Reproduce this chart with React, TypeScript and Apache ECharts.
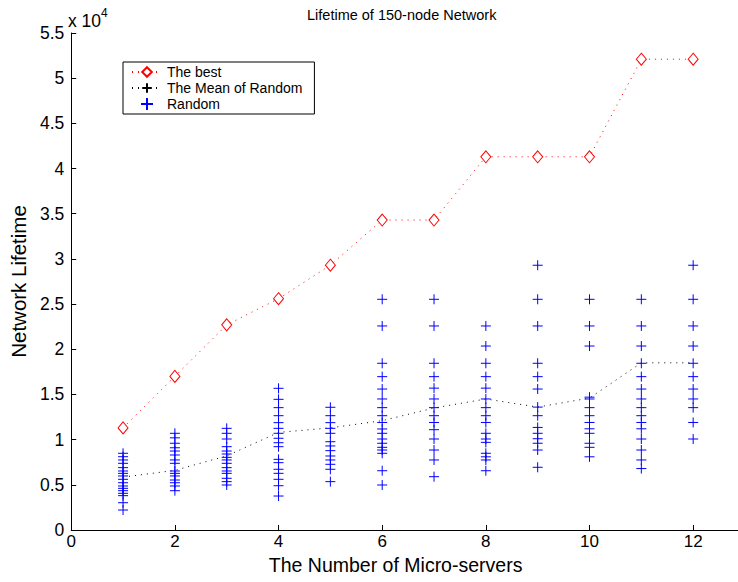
import React, { useEffect, useRef } from "react";
import * as echarts from "echarts";

const servers = [1, 2, 3, 4, 5, 6, 7, 8, 9, 10, 11, 12];
const bestLifetime = [11300, 17000, 22700, 25600, 29300, 34300, 34300, 41300, 41300, 41300, 52100, 52100];
const meanLifetime = [5850, 6600, 8200, 10800, 11300, 12100, 13500, 14500, 13600, 14600, 18500, 18500];

const random1 = [8490, 8110, 7750, 7380, 6900, 6530, 6270, 5980, 5610, 5230, 4870, 4610, 4350, 4060, 3800, 3020, 2210];
const random2 = [10700, 10200, 9600, 9100, 8740, 8300, 7750, 7380, 6530, 6270, 5980, 5530, 5230, 4870, 4350];
const random3 = [11250, 10700, 10070, 9220, 8740, 8410, 8040, 7750, 7380, 6900, 6530, 6270, 5720, 5350, 4980];
const random4 = [15680, 14460, 13540, 12650, 11880, 11250, 10700, 10150, 9660, 9220, 7820, 7450, 6720, 6270, 5610, 4900, 3760];
const random5 = [13580, 12650, 11880, 11250, 10700, 9770, 9300, 8780, 8190, 7750, 7270, 6720, 5350];
const random6 = [25530, 22580, 18450, 16970, 15600, 14500, 13540, 12650, 11900, 11180, 10700, 10070, 9600, 9150, 8850, 8490, 6560, 4980];
const random7 = [25530, 22580, 18450, 16970, 15700, 14500, 13540, 12650, 11900, 11100, 10070, 8850, 7750, 5900];
const random8 = [22580, 20360, 18450, 16970, 15700, 14500, 13540, 12650, 11900, 10700, 10070, 9700, 8490, 8100, 7750, 6560];
const random9 = [29300, 25530, 22580, 18450, 16970, 15600, 13600, 12650, 11350, 10700, 10100, 9600, 8850, 6940];
const random10 = [25530, 22580, 20360, 14700, 14500, 13540, 12650, 11900, 11200, 10700, 9600, 9150, 8100];
const random11 = [25530, 22580, 20360, 18450, 16970, 15600, 14500, 13540, 12650, 11900, 11200, 10070, 8850, 7750, 6800];
const random12 = [29300, 25530, 22580, 20360, 18450, 16970, 15600, 14500, 13540, 11900, 10070];

const randomRuns = [random1, random2, random3, random4, random5, random6, random7, random8, random9, random10, random11, random12];

const yTickLabels = ["0", "0.5", "1", "1.5", "2", "2.5", "3", "3.5", "4", "4.5", "5", "5.5"];

const PLUS = "path://M0,5L10,5M5,0L5,10";
const FONT = "Liberation Sans";

export default function App() {
  const ref = useRef<HTMLDivElement>(null);
  useEffect(() => {
    if (!ref.current) return;
    const chart = echarts.init(ref.current, undefined, { renderer: "svg" });
    const randomData: number[][] = [];
    randomRuns.forEach((run, i) => {
      run.forEach((v) => randomData.push([servers[i], v]));
    });
    const option: any = {
      animation: false,
      textStyle: { fontFamily: FONT },
      title: {
        text: "Lifetime of 150-node Network",
        left: 307,
        top: 7,
        padding: 0,
        textStyle: { fontFamily: FONT, fontSize: 14.5, fontWeight: "normal", color: "#000" },
      },
      legend: {
        orient: "vertical",
        left: 123,
        top: 62,
        padding: [2, 12, 2, 8],
        itemGap: 0,
        itemWidth: 30,
        itemHeight: 12,
        borderColor: "#000",
        borderWidth: 1,
        backgroundColor: "#fff",
        textStyle: { fontFamily: FONT, fontSize: 14, lineHeight: 16, color: "#000" },
        data: ["The best", "The Mean of Random", "Random"],
      },
      grid: { left: 69, top: 33, right: 0, bottom: 52, containLabel: false },
      xAxis: {
        type: "value",
        min: 0,
        max: 12.865,
        interval: 2,
        name: "The Number of Micro-servers",
        nameLocation: "middle",
        nameGap: 25,
        nameTextStyle: { fontFamily: FONT, fontSize: 19.5, color: "#000", padding: [0, 18, 0, 0] },
        axisLine: { lineStyle: { color: "#000", width: 1 } },
        axisTick: { inside: true, length: 5, lineStyle: { color: "#000" } },
        axisLabel: {
          showMaxLabel: false,
          margin: 3,
          fontSize: 17,
          color: "#000",
          fontFamily: FONT,
          formatter: (v: number) => (Math.abs(v % 2) < 1e-9 ? String(v) : ""),
        },
        splitLine: { show: false },
      },
      yAxis: {
        type: "value",
        min: 0,
        max: 55000,
        interval: 5000,
        name: "Network Lifetime",
        nameLocation: "middle",
        nameGap: 41,
        nameTextStyle: { fontFamily: FONT, fontSize: 20.5, color: "#000" },
        axisLine: { show: true, lineStyle: { color: "#000", width: 1 } },
        axisTick: { show: true, inside: true, length: 5, lineStyle: { color: "#000" } },
        axisLabel: {
          margin: 7,
          fontSize: 17.5,
          color: "#000",
          fontFamily: FONT,
          formatter: (v: number) => yTickLabels[Math.round(v / 5000)] ?? "",
        },
        splitLine: { show: false },
      },
      graphic: [
        {
          type: "text",
          left: 68,
          top: 12,
          style: { text: "x 10", font: `17.5px "${FONT}"`, fill: "#000" },
        },
        {
          type: "text",
          left: 101,
          top: 7,
          style: { text: "4", font: `12px "${FONT}"`, fill: "#000" },
        },
      ],
      series: [
        {
          name: "The best",
          type: "line",
          z: 3,
          data: servers.map((s, i) => [s, bestLifetime[i]]),
          symbol: "diamond",
          symbolSize: [10, 12],
          showAllSymbol: true,
          lineStyle: { color: "#ff0000", width: 1, type: [1, 5] },
          itemStyle: { color: "#ffffff", borderColor: "#ff0000", borderWidth: 1 },
        },
        {
          name: "The Mean of Random",
          type: "line",
          z: 2,
          data: servers.map((s, i) => ({ value: [s, meanLifetime[i]], symbol: "none" })),
          symbol: PLUS,
          symbolSize: 10,
          showAllSymbol: true,
          lineStyle: { color: "#000000", width: 1, type: [1, 5] },
          itemStyle: { color: "transparent", borderColor: "#000000", borderWidth: 1 },
        },
        {
          name: "Random",
          type: "scatter",
          z: 4,
          data: randomData,
          symbol: PLUS,
          symbolSize: 10,
          itemStyle: { color: "transparent", borderColor: "#0000ff", borderWidth: 1, opacity: 1 },
        },
      ],
    };
    chart.setOption(option);
    return () => chart.dispose();
  }, []);
  return (
    <div
      ref={ref}
      style={{ position: "fixed", left: 0, top: 0, width: 738, height: 582, background: "#fff" }}
    />
  );
}
